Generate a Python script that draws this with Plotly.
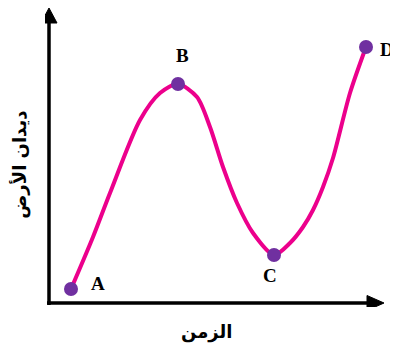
import plotly.graph_objects as go

# curve (time vs. earthworm count, arbitrary units)
curve_x = [22, 44, 61, 91, 111, 129, 148, 161, 174, 188, 204, 225, 241, 254, 264, 274, 284, 301, 317]
curve_y = [14, 66, 110, 183, 210, 219, 206, 176, 136, 100, 70, 48, 60, 76, 93, 116, 145, 210, 256]

point_names = ['A', 'B', 'C', 'D']
point_x = [22, 129, 225, 317]
point_y = [14, 219, 48, 256]
label_dx = [27, 4, -4, 21]
label_dy = [6, 29, -20, -2]

x_title = 'الزمن'
y_title = 'ديدان الأرض'

fig = go.Figure()
fig.add_trace(go.Scatter(x=curve_x, y=curve_y, mode='lines',
                         line=dict(color='#EC008C', width=4, shape='spline', smoothing=0.8),
                         hoverinfo='skip'))
fig.add_trace(go.Scatter(x=point_x, y=point_y, mode='markers',
                         marker=dict(color='#7030A0', size=14)))

for n, px, py, dx, dy in zip(point_names, point_x, point_y, label_dx, label_dy):
    fig.add_annotation(x=px + dx, y=py + dy, xref='x', yref='y', text='<b>' + n + '</b>',
                       showarrow=False, xanchor='center', yanchor='middle',
                       font=dict(family='Liberation Serif', size=19, color='black'))

# axes with arrow heads
fig.add_shape(type='line', x0=-2, y0=0, x1=322, y1=0, line=dict(color='black', width=3.5))
fig.add_shape(type='line', x0=0, y0=-2, x1=0, y1=282, line=dict(color='black', width=3.5))
fig.add_shape(type='path', path='M 318,7.5 L 335,0 L 318,-7.5 Z',
              fillcolor='black', line=dict(color='black', width=1))
fig.add_shape(type='path', path='M -8,280 L 0,295 L 8,280 Z',
              fillcolor='black', line=dict(color='black', width=1))

fig.add_annotation(x=0.464, y=-0.084, xref='paper', yref='paper', text='<b>' + x_title + '</b>',
                   showarrow=False, xanchor='center', yanchor='middle',
                   font=dict(family='DejaVu Sans', size=18, color='black'))
fig.add_annotation(x=-0.072, y=0.475, xref='paper', yref='paper', text='<b>' + y_title + '</b>',
                   textangle=-90, showarrow=False, xanchor='center', yanchor='middle',
                   font=dict(family='DejaVu Sans', size=18, color='black'))

fig.update_xaxes(range=[-4, 345], visible=False, fixedrange=True)
fig.update_yaxes(range=[-4, 295], visible=False, fixedrange=True)
fig.update_layout(width=390, height=339, showlegend=False,
                  margin=dict(l=37, r=4, t=0, b=40),
                  plot_bgcolor='white', paper_bgcolor='white')

fig.write_html('out.html')
